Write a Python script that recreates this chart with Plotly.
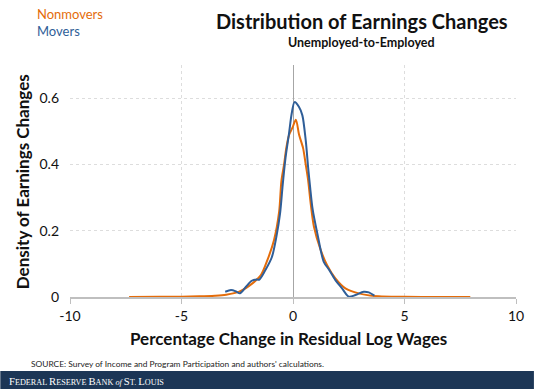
import plotly.graph_objects as go

# ---- data ----
nonmovers_x = [-7.35, -6.0, -5.0, -4.2, -3.5, -3.0, -2.41, -1.82, -1.44, -1.15, -0.85, -0.62,
               -0.52, -0.40, -0.30, -0.18, -0.03, 0.13, 0.27, 0.45, 0.57, 0.68, 0.78, 0.94,
               1.24, 1.53, 1.90, 2.35, 2.95, 3.84, 5.0, 6.5, 7.95]
nonmovers_y = [0.0, 0.0005, 0.001, 0.002, 0.004, 0.007, 0.016, 0.041, 0.066, 0.111, 0.172, 0.258,
               0.35, 0.40, 0.45, 0.488, 0.51, 0.535, 0.49, 0.45, 0.40, 0.352, 0.29, 0.212,
               0.142, 0.096, 0.056, 0.026, 0.011, 0.002, 0.0005, 0.0002, 0.0]

movers_x = [-3.04, -2.78, -2.56, -2.38, -2.11, -1.85, -1.64, -1.52, -1.25, -0.95, -0.75, -0.58,
            -0.46, -0.33, -0.18, -0.06, 0.07, 0.27, 0.42, 0.57, 0.68, 0.77, 0.88, 1.09,
            1.38, 1.61, 1.90, 2.20, 2.50, 2.80, 3.17, 3.40, 3.65]
movers_y = [0.016, 0.021, 0.017, 0.011, 0.031, 0.049, 0.053, 0.052, 0.080, 0.120, 0.180, 0.252,
            0.340, 0.423, 0.493, 0.553, 0.588, 0.573, 0.548, 0.473, 0.39, 0.33, 0.265, 0.192,
            0.106, 0.083, 0.051, 0.026, 0.001, 0.006, 0.016, 0.014, 0.004]

x_ticks = [-10, -5, 0, 5, 10]
x_tick_labels = ["-10", "-5", "0", "5", "10"]
y_ticks = [0, 0.2, 0.4, 0.6]
y_tick_labels = ["0", "0.2", "0.4", "0.6"]

ORANGE = "#E46C0A"
BLUE = "#2F5E98"
W, H = 536, 390
L, R, T, B = 70, 18, 65, 93
PW, PH = W - L - R, H - T - B


def px(x):
    return (x - L) / PW


def py(y):
    return (H - B - y) / PH


fig = go.Figure()
fig.add_trace(go.Scatter(x=nonmovers_x, y=nonmovers_y, mode="lines", name="Nonmovers",
                         line=dict(color=ORANGE, width=2, shape="spline", smoothing=0.8)))
fig.add_trace(go.Scatter(x=movers_x, y=movers_y, mode="lines", name="Movers",
                         line=dict(color=BLUE, width=2, shape="spline", smoothing=0.8)))

FONT = "Lato"
fig.update_layout(
    width=W, height=H,
    margin=dict(l=L, r=R, t=T, b=B),
    paper_bgcolor="white", plot_bgcolor="white",
    showlegend=False,
    font=dict(family=FONT, color="#111111"),
    xaxis=dict(range=[-10, 10], tickvals=x_ticks, ticktext=x_tick_labels, showgrid=True,
               gridcolor="#DDDDDD", griddash="dot", gridwidth=1, zeroline=True,
               zerolinecolor="#A6A6A6", zerolinewidth=1, showline=True, linecolor="#BFBFBF",
               linewidth=2, ticks="outside", ticklen=5, tickcolor="#BFBFBF", tickwidth=1,
               tickfont=dict(size=14, family=FONT, color="#111111")),
    yaxis=dict(range=[0, 0.7], tickvals=y_ticks, ticktext=y_tick_labels, showgrid=True,
               gridcolor="#DDDDDD", griddash="dot", gridwidth=1, zeroline=False,
               showline=False, ticks="", ticklabelstandoff=10,
               tickfont=dict(size=14, family=FONT, color="#111111")),
)

ann = [
    dict(text="Nonmovers", x=px(35), y=py(14), font=dict(size=13, color=ORANGE), xanchor="left"),
    dict(text="Movers", x=px(35), y=py(31), font=dict(size=13, color=BLUE), xanchor="left"),
    dict(text="<b>Distribution of Earnings Changes</b>", x=px(363), y=py(21),
         font=dict(size=20, color="#111111"), xanchor="center"),
    dict(text="<b>Unemployed-to-Employed</b>", x=px(363), y=py(43),
         font=dict(size=12.5, color="#111111"), xanchor="center"),
    dict(text="<b>Density of Earnings Changes</b>", x=px(22), y=py(182), textangle=-90,
         font=dict(size=17, color="#111111"), xanchor="center"),
    dict(text="<b>Percentage Change in Residual Log Wages</b>", x=px(289), y=py(338),
         font=dict(size=17, color="#111111"), xanchor="center"),
    dict(text="SOURCE: Survey of Income and Program Participation and authors' calculations.",
         x=px(29), y=py(364), font=dict(size=8.4, color="#222222"), xanchor="left"),
    dict(text=("<span style='font-size:10.7px'>F</span>EDERAL "
               "<span style='font-size:10.7px'>R</span>ESERVE "
               "<span style='font-size:10.7px'>B</span>ANK <i>of</i> "
               "<span style='font-size:10.7px'>S</span>T. "
               "<span style='font-size:10.7px'>L</span>OUIS"),
         x=px(7), y=py(381), font=dict(size=8.2, color="white", family="Liberation Serif"),
         xanchor="left"),
]
for a in ann:
    a.setdefault("yanchor", "middle")
    a.update(xref="paper", yref="paper", showarrow=False)
fig.update_layout(annotations=ann)

fig.add_shape(type="rect", xref="paper", yref="paper", x0=px(0), x1=px(W), y0=py(371), y1=py(389),
              fillcolor="#1C3656", line=dict(width=0), layer="below")

fig.write_html("out.html", config={"displayModeBar": False},
               post_script="document.body.style.margin='0';document.body.style.overflow='hidden';")
